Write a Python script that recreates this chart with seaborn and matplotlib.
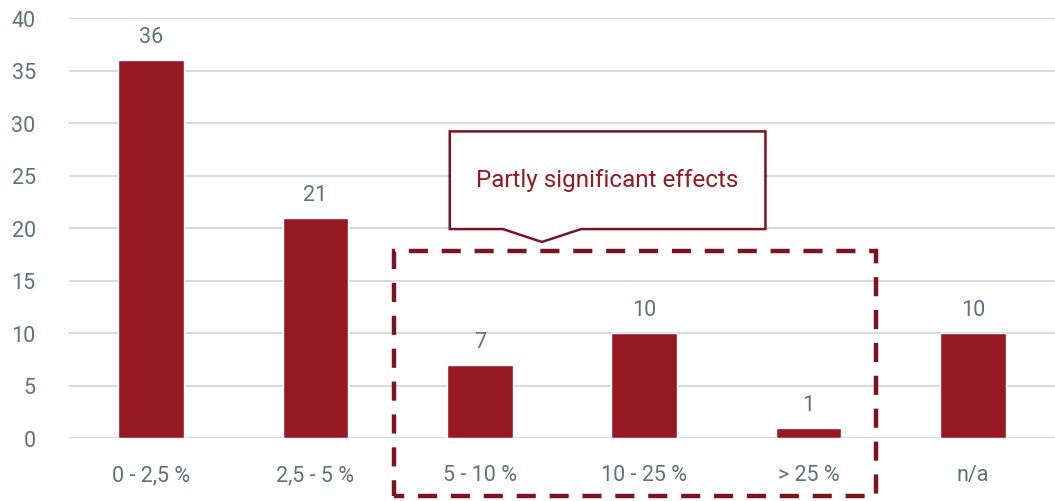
import matplotlib
matplotlib.use("Agg")
import matplotlib.pyplot as plt
import seaborn as sns
import pandas as pd
from matplotlib.patches import Rectangle, Polygon

categories = ["0 - 2,5 %", "2,5 - 5 %", "5 - 10 %", "10 - 25 %", "> 25 %", "n/a"]
counts = [36, 21, 7, 10, 1, 10]
y_ticks = [0, 5, 10, 15, 20, 25, 30, 35, 40]
callout_text = "Partly significant effects"

bar_color = "#961822"
frame_color = "#7a1420"
text_color = "#5f7377"

sns.set_theme(style="white")
plt.rcParams["font.family"] = ["Roboto", "DejaVu Sans"]

df = pd.DataFrame({"range": categories, "count": counts})

fig = plt.figure(figsize=(10.55, 5.02), dpi=100)
ax = fig.add_axes([69 / 1055, 63 / 502, 986 / 1055, 420 / 502])

sns.barplot(data=df, x="range", y="count", color=bar_color, width=0.4,
            saturation=1, ax=ax, zorder=3)

ax.set_ylim(0, 40)
ax.set_xlim(-0.5, len(categories) - 0.5)
ax.set_yticks(y_ticks)
ax.yaxis.grid(True, color="#d9d9d9", linewidth=1.5, zorder=0)
ax.set_axisbelow(True)
for s in ax.spines.values():
    s.set_visible(False)
ax.set_xlabel("")
ax.set_ylabel("")
ax.tick_params(axis="both", length=0, labelsize=15.5, labelcolor=text_color)
ax.tick_params(axis="y", pad=24)
ax.tick_params(axis="x", pad=19)

# value labels above bars
for i, v in enumerate(counts):
    ax.text(i, v + 1.2, f"{v}", ha="center", va="bottom", fontsize=15.5,
            color=text_color)

# dashed frame around the middle categories
frame = Rectangle((1.476, -5.5), 4.41 - 1.476, 17.8 + 5.5, fill=False,
                  edgecolor=frame_color, linewidth=3.2,
                  linestyle=(2.0, (4.3, 3.1)),
                  clip_on=False, zorder=4)
ax.add_patch(frame)

# callout box with pointer
x0, x1, yb, yt = 1.817, 3.738, 19.9, 29.2
callout = Polygon([(x0, yb), (x0, yt), (x1, yt), (x1, yb), (2.616, yb),
                   (2.378, 18.67), (2.14, yb)], closed=True, facecolor="white",
                  edgecolor=frame_color, linewidth=1.8, clip_on=False, zorder=5)
ax.add_patch(callout)
ax.text((x0 + x1) / 2, 24.6, callout_text, ha="center", va="center",
        fontsize=17.5, color=bar_color, zorder=6)

fig.savefig("out.png", dpi=100)
